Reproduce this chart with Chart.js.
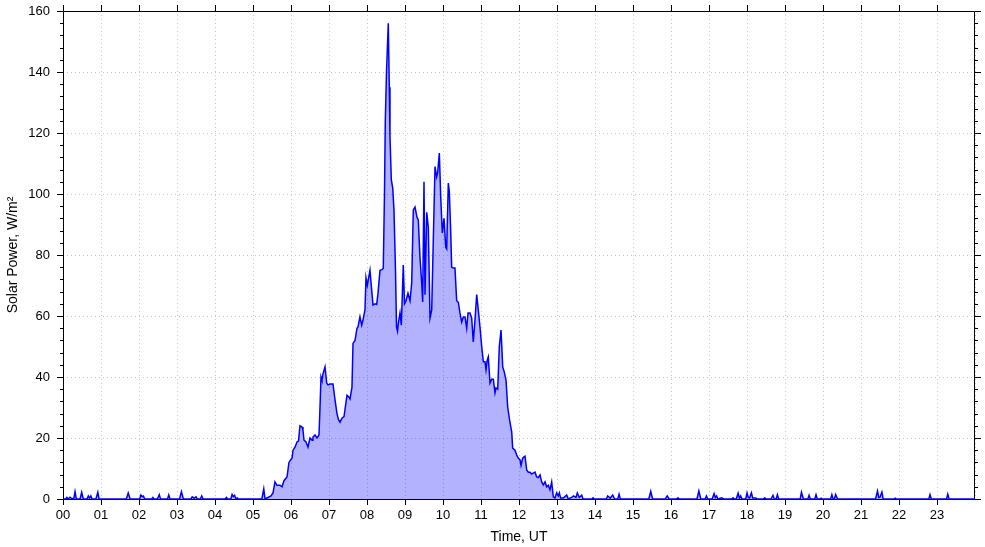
<!DOCTYPE html>
<html>
<head>
<meta charset="utf-8">
<script src="https://cdn.jsdelivr.net/npm/chart.js@4"></script>
<style>
  html, body { margin: 0; padding: 0; background: #fff; }
  #wrap { width: 985px; height: 547px; }
</style>
</head>
<body>
<div id="wrap"><canvas id="solar"></canvas></div>
<script>
// time of day in minutes (UT)
let minutes = [
  0, 4, 6, 8, 11, 13, 17, 19, 21, 27, 29.5, 32, 38, 40, 42, 44, 46, 52, 55, 57,
  100, 103, 106, 121, 123, 125, 127, 129, 140, 142, 144, 149, 152, 154, 165, 167, 169,
  184, 187, 190, 202, 204, 207, 210, 212, 217, 219, 221, 256, 258, 260,
  265, 267, 269, 271, 273, 275, 277, 314, 317, 319,
  323.7, 328.4, 331.6, 334.7, 337.9, 342.6, 345.8, 348.9, 353.7, 356.8, 360, 361.6, 363.2, 366.3,
  369.5, 371.8, 374.2, 377.4, 378.9, 380.5, 383.7, 386.8, 390, 393.2, 394.7, 397.9, 401.1, 404.2,
  405.8, 407.4, 408.9, 410.5, 413.7, 416.4, 418.4, 421.6, 426.3, 429.5, 432.6, 435, 437.4, 440.5,
  443.7, 448.4, 451.6, 453.2, 456.3, 457.9, 461.1, 464.2, 465.8, 468.9, 471.6, 473.7, 476.8, 478.4,
  480.5, 484.7, 487.4, 489.5, 492.6, 495.3, 497.4, 500.5, 503.7, 505.7, 507.6, 508.9, 510.8, 513.6,
  515.2, 516.3, 518.4, 520.6, 522.6, 525, 526.6, 528.2, 529.4, 532.1, 534.2, 537.3, 539.2, 541.6,
  544.7, 547.9, 550.6, 553.1, 555.8, 558.9, 561, 563.7, 566.4, 567.9, 570, 571.6, 574.3, 576.8,
  579.5, 582.2, 584.7, 587.4, 590, 591.6, 594.2, 596.4, 598.9, 601.6, 604.3, 605.8, 608.4, 610,
  612.2, 613.7, 616.3, 618.9, 621.6, 624.2, 626.8, 629.5, 632.1, 634.7, 637.4, 639.5, 642.6, 645.3,
  647.8, 650.5, 653.2, 655.7, 658.4, 661.1, 663.7, 666.3, 667.9, 669.9, 671.5, 674.2, 676.9, 679.5,
  682.1, 683.7, 686.4, 688.9, 691.6, 694.3, 696.8, 699.5, 702.2, 705.8, 708.5, 710, 713.7, 716.4,
  718.9, 721.6, 723.2, 725.8, 727.9, 729.5, 732.2, 734.7, 737.4, 740, 742.6, 745.3, 747.9, 750.5,
  753.2, 755.8, 758.4, 761.1, 763.7, 766.3, 768.9, 771.6, 774.2, 776.8, 779.5, 782.1, 783.7, 785.8,
  790, 795.3, 797.8, 803.2, 805.8, 810, 812.1, 815.2, 819, 821,
  835, 837, 839, 858, 860, 864, 868, 871, 876, 878, 880, 925, 928, 931, 951, 954, 957, 969, 971, 973,
  1001, 1004, 1007, 1014, 1016, 1018, 1025, 1028, 1030, 1032, 1034, 1040, 1043, 1056, 1058, 1060,
  1063, 1066, 1068, 1070, 1072, 1078, 1080, 1082, 1084, 1087, 1089, 1094, 1096, 1106, 1108, 1110,
  1118, 1121, 1123, 1126, 1128, 1130, 1164, 1166, 1169, 1176, 1178, 1180, 1187, 1189, 1191,
  1195, 1197, 1199, 1212, 1214, 1216, 1218, 1220, 1223, 1283, 1286, 1288, 1290, 1293, 1295,
  1312, 1314, 1316, 1367, 1369, 1371, 1395, 1397, 1399, 1440
];

// solar power, W/m2
let power = [
  0, 0, 0.5, 0, 0.6, 0.3, 0, 2.4, 0, 0, 2.2, 0, 0, 1, 0.3, 1, 0, 0, 2.2, 0,
  0, 2, 0, 0, 1.3, 0.8, 1, 0, 0, 0.5, 0, 0, 1.4, 0, 0, 1.3, 0,
  0, 2.4, 0, 0, 0.7, 0.3, 0.7, 0, 0, 1, 0, 0, 0.5, 0,
  0, 1.5, 0.8, 1.2, 0, 0.4, 0, 0, 3.3, 0,
  0.5, 1, 2, 5.6, 4.5, 4.5, 4, 6, 7.2, 12, 13, 13.4, 16, 17,
  18.7, 19, 24, 23.6, 22.6, 19.3, 18.7, 17, 20, 19.3, 20.3, 21, 20, 21,
  30, 40, 39, 41, 43.3, 38, 37.4, 37.7, 37.7, 32.5, 28, 26, 25.2, 26.5,
  27, 34, 33.4, 32.8, 36.7, 51, 52, 56, 56.4, 59.7, 57, 58.7, 62, 72.5,
  70, 75, 68.5, 63.6, 64, 63.8, 67.5, 75, 75.2, 75.7, 100, 124, 140, 156,
  135, 118.7, 104.6, 102, 94.8, 75, 56.4, 55, 57.5, 61, 57, 76.7, 64, 65,
  67.5, 65, 70.8, 94.8, 95.7, 92.4, 91.5, 79, 70.8, 64.6, 104, 67, 94, 89.2,
  59.3, 62, 85, 109, 105.6, 107, 113.4, 99, 87.2, 92, 82.6, 82, 103.6, 100.7,
  87.5, 76, 75.7, 75.7, 65, 64.5, 61, 58, 59.7, 59.7, 56, 61, 61, 59.3,
  51.5, 58.7, 67, 62, 56.4, 50, 45, 45, 42.3, 45.6, 46.6, 38, 39.3, 39.3,
  34.8, 36.4, 36, 50, 55.4, 43.3, 41.6, 39, 30, 25, 22, 16.7, 16, 14.4,
  13.4, 12.8, 11, 13.4, 13.8, 14, 9.5, 8.8, 8.8, 8.2, 8.5, 8.8, 7.2, 7,
  7.9, 5.6, 4.6, 5.6, 4, 4.5, 3, 5.6, 0.7, 0.3, 2, 1, 2, 0.3,
  0.3, 1.3, 0, 0.5, 1, 0.5, 2, 0.5, 1.3, 0,
  0, 0.4, 0, 0, 1, 0.3, 1.3, 0, 0, 1.6, 0, 0, 2.5, 0, 0, 1, 0, 0, 0.4, 0,
  0, 2.6, 0, 0, 1, 0, 0, 1.8, 0.5, 1, 0, 0.4, 0, 0, 0.4, 0,
  0, 1.9, 0.3, 1, 0, 0, 2, 0.5, 0.3, 2, 0.3, 0.3, 0, 0, 0.4, 0,
  0, 1.2, 0, 0, 1.4, 0, 0, 2.2, 0, 0, 1.2, 0, 0, 1.4, 0,
  0, 0.3, 0, 0, 1.4, 0, 0, 1.5, 0, 0, 2.6, 0.5, 0.6, 2.3, 0,
  0, 0.3, 0, 0, 1.4, 0, 0, 1.6, 0, 0
];

let hourLabels = ['00','01','02','03','04','05','06','07','08','09','10','11',
                  '12','13','14','15','16','17','18','19','20','21','22','23'];

const fontFam = '"Liberation Sans", Arial, sans-serif';

// frame with major/minor tick marks on all four sides
const frame = {
  id: 'frame',
  beforeDatasetsDraw(chart) {
    const {ctx, chartArea: a, scales: {x, y}} = chart;
    ctx.save();
    ctx.strokeStyle = '#000';
    ctx.lineWidth = 1;
    ctx.beginPath();
    ctx.rect(Math.round(a.left) + 0.5, Math.round(a.top) + 0.5,
             Math.round(a.right - a.left) - 1, Math.round(a.bottom - a.top));
    for (let v = 0; v <= 160; v += 4) {
      const py = Math.round(y.getPixelForValue(v)) + 0.5;
      const len = v % 20 === 0 ? 6 : 3;
      ctx.moveTo(a.left, py); ctx.lineTo(a.left - len, py);
      ctx.moveTo(a.right, py); ctx.lineTo(a.right + len, py);
    }
    for (let h = 0; h < 24; h++) {
      const px = Math.round(x.getPixelForValue(h * 60)) + 0.5;
      ctx.moveTo(px, a.bottom); ctx.lineTo(px, a.bottom + 6);
      ctx.moveTo(px, a.top); ctx.lineTo(px, a.top - 6);
    }
    ctx.stroke();
    ctx.restore();
  }
};

let points = minutes.map((m, i) => ({x: m, y: power[i]}));

new Chart(document.getElementById('solar'), {
  type: 'line',
  data: {
    datasets: [{
      data: points,
      borderColor: '#0000ff',
      borderWidth: 1.5,
      backgroundColor: 'rgba(0,0,255,0.3)',
      fill: 'origin',
      pointRadius: 0,
      tension: 0,
      clip: 2
    }]
  },
  options: {
    responsive: true,
    maintainAspectRatio: false,
    animation: false,
    layout: { padding: { top: 11, right: 10, left: 0, bottom: 0 } },
    plugins: { legend: { display: false }, tooltip: { enabled: false } },
    scales: {
      x: {
        type: 'linear',
        min: 0,
        max: 1440,
        afterFit: s => { s.height = 48; },
        ticks: {
          stepSize: 60,
          autoSkip: false,
          maxRotation: 0,
          padding: 0,
          color: '#000',
          font: { family: fontFam, size: 13 },
          callback: v => hourLabels[v / 60] || ''
        },
        grid: { color: '#c8c8c8', drawTicks: true, tickLength: 9, tickColor: 'rgba(0,0,0,0)', lineWidth: 1 },
        border: { display: false, dash: [1, 3] },
        title: {
          display: true,
          text: 'Time, UT',
          color: '#000',
          font: { family: fontFam, size: 14 },
          padding: { top: 2, bottom: 1 }
        }
      },
      y: {
        min: 0,
        max: 160,
        afterFit: s => { s.width = 63; },
        ticks: {
          stepSize: 20,
          padding: 0,
          color: '#000',
          font: { family: fontFam, size: 13 }
        },
        grid: { color: '#c8c8c8', drawTicks: true, tickLength: 13, tickColor: 'rgba(0,0,0,0)', lineWidth: 1 },
        border: { display: false, dash: [1, 3] },
        title: {
          display: true,
          text: 'Solar Power, W/m²',
          color: '#000',
          font: { family: fontFam, size: 14 },
          padding: { top: 5, bottom: 2 }
        }
      }
    }
  },
  plugins: [frame]
});
</script>
</body>
</html>
